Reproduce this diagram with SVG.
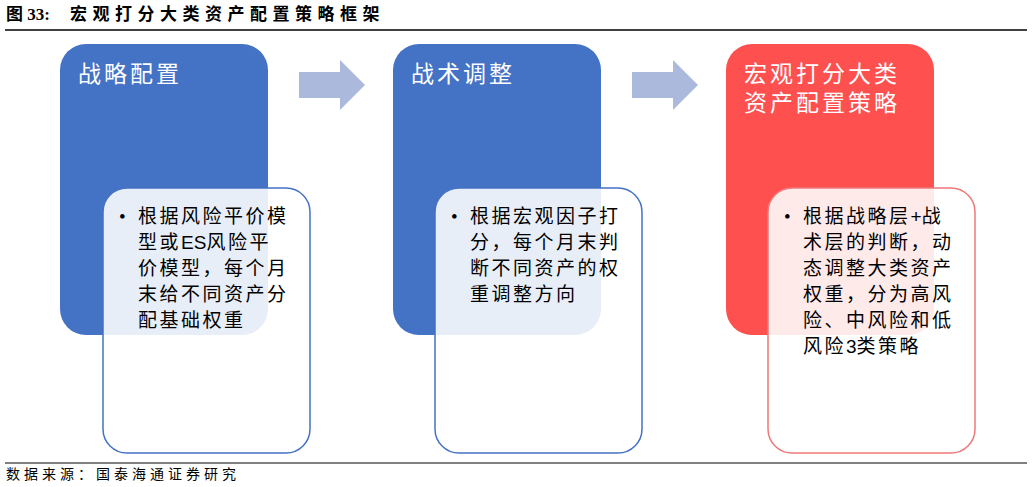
<svg xmlns="http://www.w3.org/2000/svg" width="1032" height="487" viewBox="0 0 1032 487">
<style>
.t{font-family:"Liberation Serif","Noto Sans CJK SC",serif;}
.hd{font-size:17px;font-weight:bold;fill:#000;letter-spacing:5.5px}
.ttl{font-size:23px;fill:#fff;letter-spacing:3px}
.bd{font-size:19px;fill:#000;letter-spacing:2.5px}
.blue{fill:#4472C4}
.red{fill:#FF5050}
.inb{fill:#fff;fill-opacity:0.88;stroke:#4472C4;stroke-width:1.5}
.inr{fill:#fff;fill-opacity:0.88;stroke:#F07878;stroke-width:1.5}
.arr{fill:#AAB9DC}
</style>
<rect width="1032" height="487" fill="#fff"/>
<text class="t hd" x="6" y="20"><tspan letter-spacing="0">图 33:</tspan><tspan x="70">宏观打分大类资产配置策略框架</tspan></text>
<line x1="5" y1="30" x2="1027" y2="30" stroke="#000" stroke-width="1.5"/>
<g id="connectors">
<polygon class="arr" points="299,72 340,72 340,60 365,85 340,110 340,98 299,98"/>
<polygon class="arr" points="632,72 673,72 673,60 698,85 673,110 673,98 632,98"/>
</g>
<g id="n1">
<rect class="blue" x="60" y="44" width="208" height="291" rx="26"/>
<text class="t ttl" x="78" y="82">战略配置</text>
<rect class="inb" x="103" y="188" width="207" height="265" rx="24"/>
<text class="t bd"><tspan x="119" y="223">•</tspan><tspan x="138" y="223">根据风险平价模</tspan><tspan x="138" y="249">型或<tspan font-family="Liberation Sans" letter-spacing="0">ES</tspan>风险平</tspan><tspan x="138" y="275">价模型，每个月</tspan><tspan x="138" y="301">末给不同资产分</tspan><tspan x="138" y="327">配基础权重</tspan></text>
</g>
<g id="n2">
<rect class="blue" x="393" y="44" width="208" height="291" rx="26"/>
<text class="t ttl" x="411" y="82">战术调整</text>
<rect class="inb" x="435" y="188" width="207" height="265" rx="24"/>
<text class="t bd"><tspan x="451" y="223">•</tspan><tspan x="470" y="223">根据宏观因子打</tspan><tspan x="470" y="249">分，每个月末判</tspan><tspan x="470" y="275">断不同资产的权</tspan><tspan x="470" y="301">重调整方向</tspan></text>
</g>
<g id="n3">
<rect class="red" x="726" y="44" width="208" height="291" rx="26"/>
<text class="t ttl"><tspan x="744" y="82">宏观打分大类</tspan><tspan x="744" y="111">资产配置策略</tspan></text>
<rect class="inr" x="768" y="188" width="207" height="265" rx="24"/>
<text class="t bd"><tspan x="784" y="223">•</tspan><tspan x="803" y="223">根据战略层<tspan font-family="Liberation Sans" letter-spacing="0">+</tspan>战</tspan><tspan x="803" y="249">术层的判断，动</tspan><tspan x="803" y="275">态调整大类资产</tspan><tspan x="803" y="301">权重，分为高风</tspan><tspan x="803" y="327">险、中风险和低</tspan><tspan x="803" y="353">风险<tspan font-family="Liberation Sans" letter-spacing="0">3</tspan>类策略</tspan></text>
</g>
<line x1="5" y1="463" x2="1027" y2="463" stroke="#000" stroke-width="1"/>
<text class="t" x="6" y="479" font-size="14" letter-spacing="4">数据来源：国泰海通证券研究</text>
</svg>
